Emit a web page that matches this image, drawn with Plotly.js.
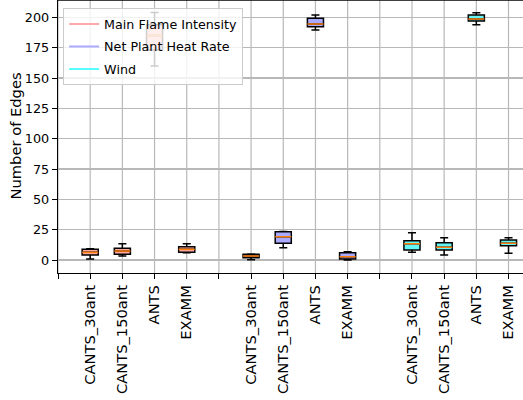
<!DOCTYPE html>
<html>
<head>
<meta charset="utf-8">
<script src="https://cdn.plot.ly/plotly-3.0.1.min.js"></script>
<style>html,body{margin:0;padding:0;background:#fff}</style>
</head>
<body>
<div id="chart" style="width:523px;height:400px"></div>
<script>
// Data
const groups = ["Main Flame Intensity", "Net Plant Heat Rate", "Wind"];
const methods = ["CANTS_30ant", "CANTS_150ant", "ANTS", "EXAMM"];

const flameMin = [0.8, 3.3, 160, 6.0];
const flameQ1  = [4.1, 4.7, 173, 6.3];
const flameMed = [6.3, 7.4, 185, 8.8];
const flameQ3  = [8.8, 9.6, 194, 11.0];
const flameMax = [9.3, 13.4, 204, 13.4];

const heatMin = [0.3, 10.1, 189.5, 0.0];
const heatQ1  = [1.9, 13.8, 192.3, 0.8];
const heatMed = [3.3, 19.2, 194.5, 2.7];
const heatQ3  = [4.7, 23.3, 199.2, 6.0];
const heatMax = [4.9, 23.5, 201.9, 6.8];

const windMin = [6.3, 4.1, 193.9, 5.5];
const windQ1  = [8.2, 8.2, 197.0, 11.8];
const windMed = [13.4, 10.5, 198.6, 13.8];
const windQ3  = [15.9, 14.3, 201.9, 16.5];
const windMax = [22.5, 18.4, 203.8, 18.4];

const yTicks = [0, 25, 50, 75, 100, 125, 150, 175, 200];

// Build
const stats = [
  {min: flameMin, q1: flameQ1, med: flameMed, q3: flameQ3, max: flameMax},
  {min: heatMin, q1: heatQ1, med: heatMed, q3: heatQ3, max: heatMax},
  {min: windMin, q1: windQ1, med: windMed, q3: windQ3, max: windMax}
];
const fills = ["#ffa9a0", "#aaaaff", "#66f5f5"];
const legendColors = ["#ffaaaa", "#aaaaff", "#55ffff"];
const boxW = 0.5;

const traces = [];
const tickvals = [], ticktext = [];
groups.forEach((g, gi) => {
  tickvals.push(gi * 5); ticktext.push("");
  const xs = methods.map((m, j) => gi * 5 + j + 1);
  methods.forEach((m, j) => { tickvals.push(gi * 5 + j + 1); ticktext.push(m); });
  const s = stats[gi];
  traces.push({
    type: "box", x: xs,
    lowerfence: s.min, q1: s.q1, median: s.med, q3: s.q3, upperfence: s.max,
    width: boxW, whiskerwidth: 0.5,
    fillcolor: fills[gi], line: {color: "#000000", width: 1.5},
    showlegend: false, hoverinfo: "skip"
  });
  const mx = [], my = [];
  xs.forEach((x, j) => { mx.push(x - boxW / 2, x + boxW / 2, null); my.push(s.med[j], s.med[j], null); });
  traces.push({
    type: "scatter", mode: "lines", x: mx, y: my,
    line: {color: "#ff7f0e", width: 1.5}, showlegend: false, hoverinfo: "skip"
  });
});
groups.forEach((g, gi) => {
  traces.push({
    type: "scatter", mode: "lines", x: [null], y: [null], name: g, legendgroup: "g" + gi,
    line: {color: legendColors[gi], width: 2}, showlegend: true
  });
});

// vertical grid lines at the x ticks
const shapes = tickvals.map(v => ({
  type: "line", xref: "x", yref: "paper", x0: v, x1: v, y0: 0, y1: 1, layer: "below",
  line: {color: "#b8b8b8", width: 1.2}
}));
shapes.push({type: "line", xref: "paper", yref: "paper", x0: 0, x1: 1, y0: 1, y1: 1,
             line: {color: "#000", width: 1.5}});

const fam = "DejaVu Sans, sans-serif";
const layout = {
  width: 523, height: 400,
  margin: {l: 58, r: 0, t: 0, b: 127, pad: 0},
  paper_bgcolor: "#fff", plot_bgcolor: "#fff",
  font: {family: fam, size: 14, color: "#000"},
  showlegend: true,
  legend: {
    x: 0.011, y: 0.97, xanchor: "left", yanchor: "top",
    bgcolor: "rgba(255,255,255,0.8)", bordercolor: "#cccccc", borderwidth: 1,
    font: {family: fam, size: 12.7, color: "#000"}, traceorder: "grouped",
    itemwidth: 30, tracegroupgap: 3
  },
  xaxis: {
    range: [0, 14.45], tickmode: "array", tickvals: tickvals, ticktext: ticktext,
    tickangle: -90, ticks: "outside", ticklen: 5, tickwidth: 1, tickcolor: "#000",
    showgrid: false,
    showline: true, linecolor: "#000", linewidth: 1.2, zeroline: false,
    tickfont: {family: fam, size: 14.7, color: "#000"}, automargin: false
  },
  yaxis: {
    range: [-10.7, 214.3], tickmode: "array", tickvals: yTicks,
    ticks: "outside", ticklen: 5, tickwidth: 1, tickcolor: "#000",
    showgrid: true, gridcolor: "#b8b8b8", gridwidth: 1.2,
    showline: true, linecolor: "#000", linewidth: 1.2, zeroline: false,
    tickfont: {family: fam, size: 12.8, color: "#000"}, automargin: false
  },
  annotations: [{
    text: "Number of Edges", xref: "paper", yref: "paper",
    x: (15 - 58) / 465, y: 0.5, xanchor: "center", yanchor: "middle",
    textangle: -90, showarrow: false, font: {family: fam, size: 14.7, color: "#000"}
  }],
  shapes: shapes
};
Plotly.newPlot("chart", traces, layout, {displayModeBar: false, staticPlot: true});
</script>
</body>
</html>
